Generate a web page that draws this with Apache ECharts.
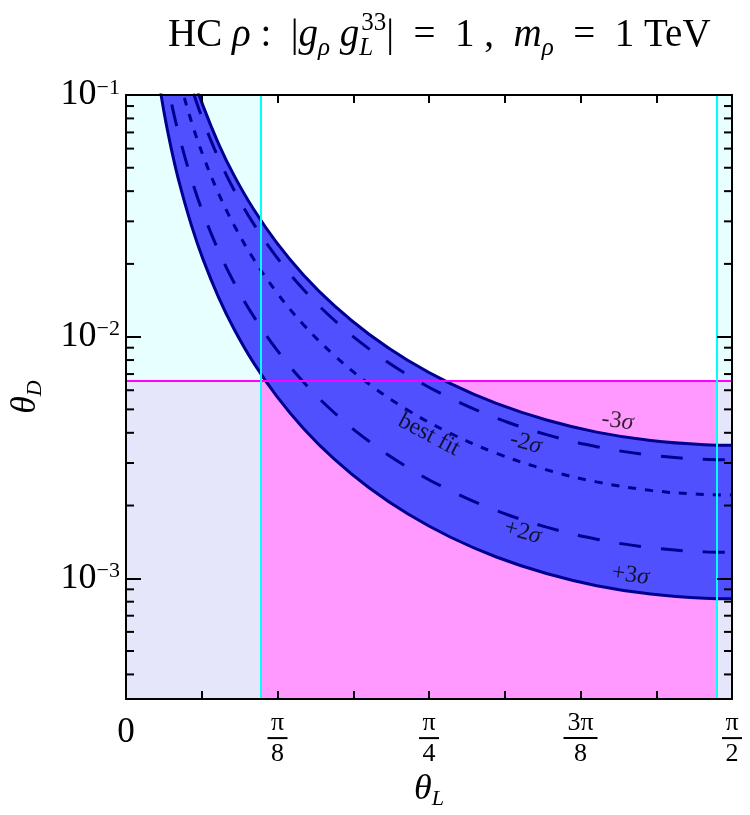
<!DOCTYPE html>
<html>
<head>
<meta charset="utf-8">
<script src="https://cdn.jsdelivr.net/npm/echarts@6/dist/echarts.min.js"></script>
<style>
  html, body { margin: 0; padding: 0; background: #fff; }
  #main { width: 750px; height: 815px; }
</style>
</head>
<body>
<div id="main"></div>
<script>
// theta_L sample points (rad) and theta_D for each curve
const thetaL = [0.08, 0.10, 0.12, 0.14, 0.17, 0.20, 0.24, 0.28, 0.33, 0.39, 0.46, 0.54, 0.63, 0.73, 0.84, 0.96, 1.09, 1.22, 1.36, 1.50, 1.5708];
const plus3 = [0.1287, 0.08247, 0.05736, 0.04222, 0.02872, 0.02083, 0.01455, 0.01076, 0.007828, 0.005687, 0.004171, 0.003110, 0.002368, 0.001848, 0.001482, 0.001225, 0.001046, 0.000932, 0.000860, 0.000826, 0.000822];
const plus2 = [0.2004, 0.1284, 0.08932, 0.06574, 0.04472, 0.03244, 0.02265, 0.01676, 0.01219, 0.008855, 0.006494, 0.004842, 0.003688, 0.002878, 0.002308, 0.001907, 0.001628, 0.001451, 0.001339, 0.001286, 0.00128];
const bestFit = [0.3460, 0.2217, 0.1542, 0.1135, 0.07722, 0.05600, 0.03911, 0.02894, 0.02105, 0.01529, 0.01121, 0.008361, 0.006367, 0.004969, 0.003986, 0.003293, 0.002811, 0.002506, 0.002311, 0.002221, 0.00221];
const minus2 = [0.4838, 0.3100, 0.2156, 0.1587, 0.1080, 0.07830, 0.05469, 0.04046, 0.02943, 0.02138, 0.01568, 0.01169, 0.008903, 0.006948, 0.005573, 0.004604, 0.003931, 0.003504, 0.003232, 0.003105, 0.00309];
const minus3 = [0.5559, 0.3562, 0.2477, 0.1823, 0.1240, 0.08996, 0.06283, 0.04648, 0.03381, 0.02456, 0.01801, 0.01343, 0.01023, 0.007983, 0.006402, 0.005290, 0.004516, 0.004025, 0.003713, 0.003568, 0.00355];

// exclusion limits
const thetaLCutLow = 0.35;
const thetaLCutHigh = 1.532;
const thetaDCut = 6.58e-3;

// curve labels: [theta_L, theta_D, text, rotation]
const curveLabels = [
  [1.274, 4.47e-3, '-3σ', -8],
  [1.036, 3.63e-3, '-2σ', -15],
  [0.785, 3.92e-3, 'best fit', -28],
  [1.028, 1.55e-3, '+2σ', -15],
  [1.307, 1.03e-3, '+3σ', -8]
];

const xTickLabels = ['0', '', 'π/8', '', 'π/4', '', '3π/8', '', 'π/2'];
const yTickExps = [-3, -2, -1];

const xMax = Math.PI / 2;
const yMin = 3.162e-4;
const yMax = 0.1;
const FONT = 'Liberation Serif';

const navy = '#000090';
const pairs = arr => thetaL.map((t, i) => [t, arr[i]]);

const minorTicks = [];
[-4, -3, -2].forEach(function (e) {
  for (let m = 2; m <= 9; m++) {
    const v = m * Math.pow(10, e);
    if (v > yMin && v < yMax) minorTicks.push([0, v]);
  }
});

function txt(size, extra) {
  return Object.assign({ fontFamily: FONT, fontSize: size, fontWeight: 'normal', color: '#000' }, extra || {});
}

let myChart = echarts.init(document.getElementById('main'));

let option = {
  animation: false,
  title: {
    left: 163,
    top: 6,
    text: '{n|HC }{i|ρ}{n| :  |}{i|g}{sb|ρ}{n| }{i|g}{sbL|L}{sp|33}{n||  =  1 ,  }{i|m}{sb|ρ}{n|  =  1 TeV}',
    textStyle: {
      fontWeight: 'normal',
      rich: {
        n: txt(39, { lineHeight: 50 }),
        i: txt(39, { fontStyle: 'italic', lineHeight: 50 }),
        sb: txt(25, { fontStyle: 'italic', verticalAlign: 'bottom', lineHeight: 24 }),
        sbL: txt(25, { fontStyle: 'italic', verticalAlign: 'bottom', lineHeight: 24, width: 2 }),
        sp: txt(25, { verticalAlign: 'top', lineHeight: 22 })
      }
    }
  },
  grid: { left: 124, right: 18, top: 95, bottom: 113 },
  xAxis: [
    {
      type: 'value',
      min: 0,
      max: xMax,
      interval: Math.PI / 16,
      z: 10,
      name: '{t|θ}{d|L}',
      nameLocation: 'middle',
      nameGap: 62,
      nameTextStyle: {
        rich: {
          t: txt(36, { fontStyle: 'italic', lineHeight: 40 }),
          d: txt(22, { fontStyle: 'italic', verticalAlign: 'bottom', lineHeight: 20 })
        }
      },
      axisLine: { onZero: false, lineStyle: { color: '#000', width: 2 } },
      axisTick: { inside: true, length: 8, lineStyle: { color: '#000', width: 2 } },
      splitLine: { show: false },
      axisLabel: {
        margin: 12,
        interval: 0,
        hideOverlap: false,
        formatter: function (v) {
          const k = Math.round(v / (Math.PI / 16));
          const s = xTickLabels[k] || '';
          if (!s) return '';
          if (s.indexOf('/') < 0) return '{z|' + s + '}';
          const p = s.split('/');
          return '{n|' + p[0] + '}\n{' + (p[0].length > 1 ? 'barw' : 'bar') + '|}\n{d|' + p[1] + '}';
        },
        rich: {
          z: txt(35, { lineHeight: 44 }),
          n: txt(26, { lineHeight: 24 }),
          bar: { width: 20, height: 2, lineHeight: 6, backgroundColor: '#000' },
          barw: { width: 34, height: 2, lineHeight: 6, backgroundColor: '#000' },
          d: txt(26, { lineHeight: 26 })
        }
      }
    },
    {
      type: 'value',
      position: 'top',
      min: 0,
      max: xMax,
      interval: Math.PI / 16,
      z: 10,
      axisLine: { onZero: false, lineStyle: { color: '#000', width: 2 } },
      axisTick: { inside: true, length: 8, lineStyle: { color: '#000', width: 2 } },
      axisLabel: { show: false },
      splitLine: { show: false }
    }
  ],
  yAxis: [
    {
      type: 'log',
      logBase: 10,
      min: yMin,
      max: yMax,
      z: 10,
      name: '{t|θ}{d|D}',
      nameLocation: 'middle',
      nameGap: 80,
      nameTextStyle: {
        rich: {
          t: txt(36, { fontStyle: 'italic', lineHeight: 40 }),
          d: txt(22, { fontStyle: 'italic', verticalAlign: 'bottom', lineHeight: 20 })
        }
      },
      axisLine: { onZero: false, lineStyle: { color: '#000', width: 2 } },
      axisTick: { inside: true, length: 15, lineStyle: { color: '#000', width: 2 } },
      splitLine: { show: false },
      axisLabel: {
        margin: 6,
        formatter: function (v) {
          const l = Math.log10(v);
          const e = Math.round(l);
          if (Math.abs(l - e) > 1e-6 || yTickExps.indexOf(e) < 0) return '';
          return '{b|10}{s|' + (e < 0 ? '−' + (-e) : e) + '}';
        },
        rich: {
          b: txt(36, { lineHeight: 36 }),
          s: txt(22, { verticalAlign: 'top', lineHeight: 20 })
        }
      }
    },
    {
      type: 'log',
      logBase: 10,
      position: 'right',
      min: yMin,
      max: yMax,
      z: 10,
      axisLine: { onZero: false, lineStyle: { color: '#000', width: 2 } },
      axisTick: { inside: true, length: 15, lineStyle: { color: '#000', width: 2 } },
      axisLabel: { show: false },
      splitLine: { show: false }
    }
  ],
  series: [
    {
      name: 'regions',
      type: 'line',
      z: 1,
      showSymbol: false,
      lineStyle: { opacity: 0 },
      data: pairs(plus3),
      markArea: {
        silent: true,
        data: [
          [{ coord: [0, thetaDCut], itemStyle: { color: '#e8ffff' } }, { coord: [thetaLCutLow, yMax] }],
          [{ coord: [0, yMin], itemStyle: { color: '#e6e6fa' } }, { coord: [thetaLCutLow, thetaDCut] }],
          [{ coord: [thetaLCutLow, yMin], itemStyle: { color: '#ff99ff' } }, { coord: [thetaLCutHigh, thetaDCut] }],
          [{ coord: [thetaLCutHigh, thetaDCut], itemStyle: { color: '#e8ffff' } }, { coord: [xMax, yMax] }],
          [{ coord: [thetaLCutHigh, yMin], itemStyle: { color: '#e6e6fa' } }, { coord: [xMax, thetaDCut] }]
        ]
      },
      markLine: {
        silent: true,
        symbol: 'none',
        label: { show: false },
        lineStyle: { color: '#ff00ff', width: 2, type: 'solid' },
        data: [[{ coord: [0, thetaDCut] }, { coord: [xMax, thetaDCut] }]]
      }
    },
    {
      // 3 sigma band between the two solid curves
      name: 'band',
      type: 'custom',
      z: 2,
      silent: true,
      encode: { x: 0, y: 1 },
      data: [[0.5, 0.01]],
      renderItem: function (params, api) {
        const lower = thetaL.map((t, i) => api.coord([t, plus3[i]]));
        const upper = thetaL.map((t, i) => api.coord([t, minus3[i]])).reverse();
        const cs = params.coordSys;
        return {
          type: 'polygon',
          shape: { points: lower.concat(upper) },
          style: { fill: '#5050ff', stroke: null },
          clipPath: { type: 'rect', shape: { x: cs.x, y: cs.y, width: cs.width, height: cs.height } }
        };
      }
    },
    {
      name: '+3σ', type: 'line', z: 3, smooth: 0.4, showSymbol: false,
      lineStyle: { color: navy, width: 3 }, data: pairs(plus3)
    },
    {
      name: '+2σ', type: 'line', z: 3, smooth: 0.4, showSymbol: false,
      lineStyle: { color: navy, width: 3, type: [22, 20] }, data: pairs(plus2)
    },
    {
      name: 'best fit', type: 'line', z: 3, smooth: 0.4, showSymbol: false,
      lineStyle: { color: navy, width: 3, type: [8, 9] }, data: pairs(bestFit)
    },
    {
      name: '-2σ', type: 'line', z: 3, smooth: 0.4, showSymbol: false,
      lineStyle: { color: navy, width: 3, type: [22, 20] }, data: pairs(minus2)
    },
    {
      name: '-3σ', type: 'line', z: 3, smooth: 0.4, showSymbol: false,
      lineStyle: { color: navy, width: 3 }, data: pairs(minus3)
    },
    {
      name: 'labels',
      type: 'scatter',
      z: 5,
      symbolSize: 0,
      data: curveLabels.map(function (c) {
        return { value: [c[0], c[1]], name: c[2], label: { rotate: c[3] } };
      }),
      label: {
        show: true,
        position: 'inside',
        formatter: function (p) {
          const s = p.name;
          if (s.indexOf('σ') < 0) return '{n|' + s + '}';
          return '{n|' + s.replace('σ', '') + '}{g|σ}';
        },
        rich: {
          n: txt(24),
          g: txt(24, { fontStyle: 'italic' })
        }
      },
      markLine: {
        silent: true,
        symbol: 'none',
        label: { show: false },
        lineStyle: { color: '#00ffff', width: 2, type: 'solid' },
        data: [
          [{ coord: [thetaLCutLow, yMin] }, { coord: [thetaLCutLow, yMax] }],
          [{ coord: [thetaLCutHigh, yMin] }, { coord: [thetaLCutHigh, yMax] }]
        ]
      }
    },
    {
      name: 'minorTicks',
      type: 'custom',
      z: 11,
      silent: true,
      encode: { x: 0, y: 1 },
      data: minorTicks,
      renderItem: function (params, api) {
        const v = api.value(1);
        const a = api.coord([0, v]);
        const b = api.coord([xMax, v]);
        const st = { stroke: '#000', lineWidth: 2 };
        return {
          type: 'group',
          children: [
            { type: 'line', shape: { x1: a[0], y1: a[1], x2: a[0] + 8, y2: a[1] }, style: st },
            { type: 'line', shape: { x1: b[0] - 8, y1: b[1], x2: b[0], y2: b[1] }, style: st }
          ]
        };
      }
    }
  ]
};
myChart.setOption(option);
</script>
</body>
</html>
